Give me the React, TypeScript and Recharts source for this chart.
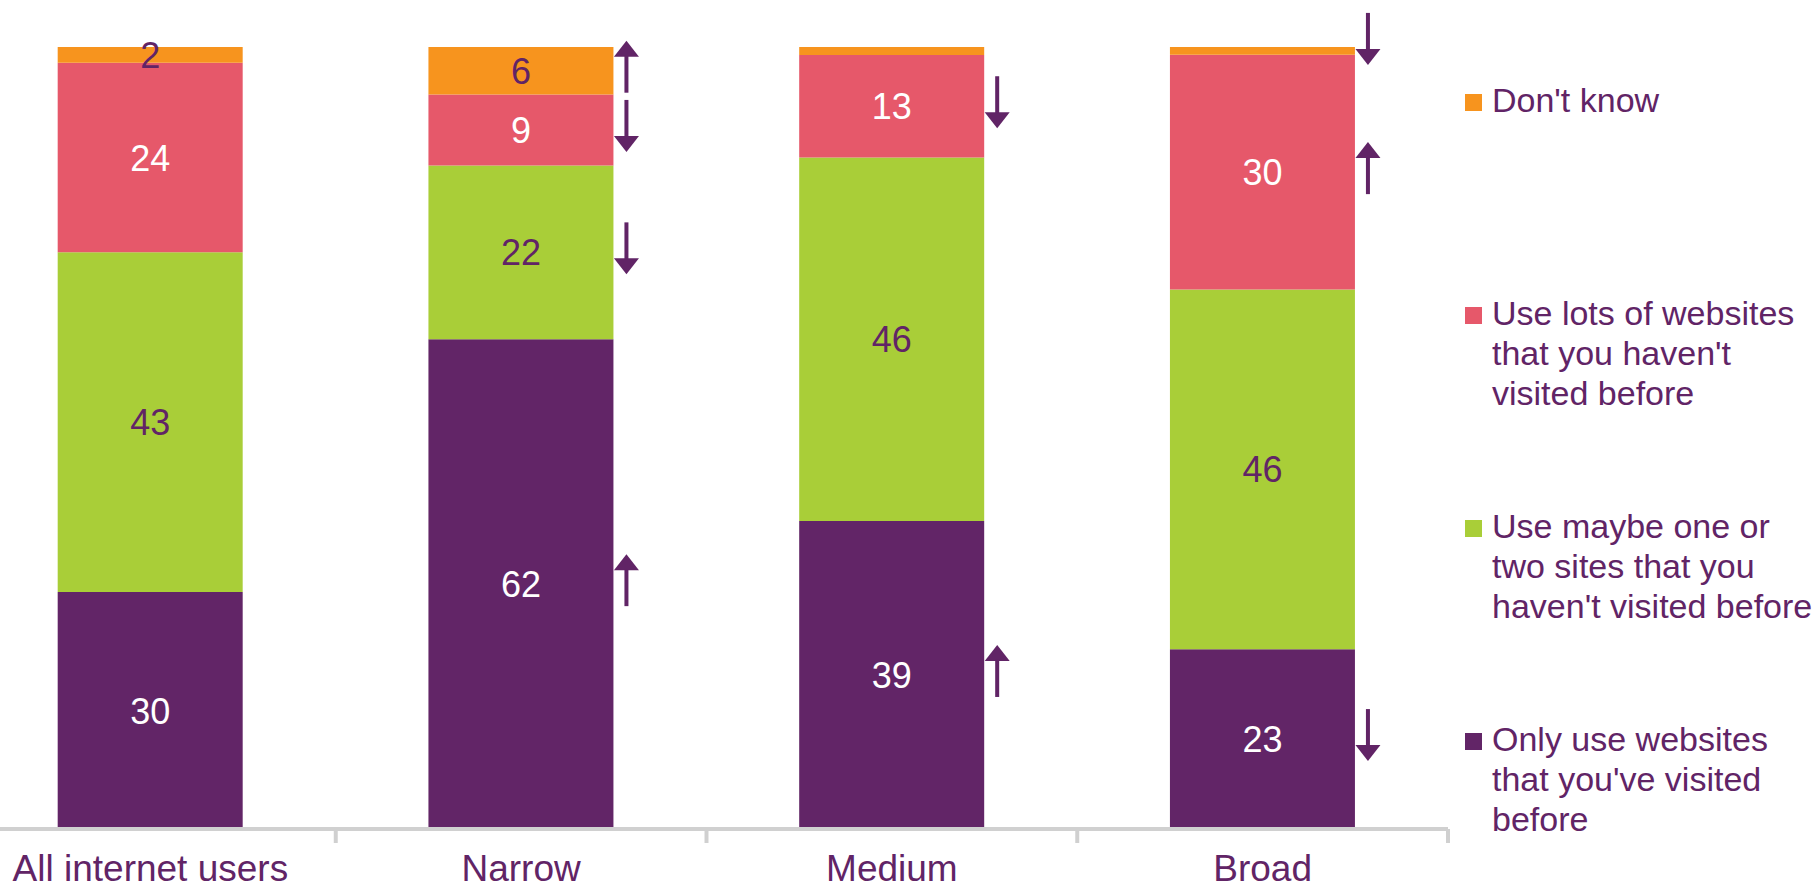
import React from 'react';
import { BarChart, Bar, XAxis, YAxis, LabelList } from 'recharts';

const CATEGORIES = ['All internet users', 'Narrow', 'Medium', 'Broad'];

// stacked from the bottom up
const ONLY_VISITED = [30, 62, 39, 23];
const ONE_OR_TWO_NEW = [43, 22, 46, 46];
const LOTS_NEW = [24, 9, 13, 30];
const DONT_KNOW = [2, 6, 1, 1];

// significant changes shown by the arrows next to each segment
const ONLY_VISITED_CHANGE = [null, 'up', 'up', 'down'];
const ONE_OR_TWO_NEW_CHANGE = [null, 'down', null, null];
const LOTS_NEW_CHANGE = [null, 'down', 'down', 'up'];
const DONT_KNOW_CHANGE = [null, 'up', null, 'down'];

const PURPLE = '#622567';
const TEXT = '#612466';
const FONT = '"Liberation Sans", Arial, sans-serif';

const SERIES = [
    { key: 'only', name: "Only use websites\nthat you've visited\nbefore", color: PURPLE, label: '#ffffff', values: ONLY_VISITED, change: ONLY_VISITED_CHANGE },
    { key: 'maybe', name: "Use maybe one or\ntwo sites that you\nhaven't visited before", color: '#A9CE38', label: TEXT, values: ONE_OR_TWO_NEW, change: ONE_OR_TWO_NEW_CHANGE },
    { key: 'lots', name: "Use lots of websites\nthat you haven't\nvisited before", color: '#E6586A', label: '#ffffff', values: LOTS_NEW, change: LOTS_NEW_CHANGE },
    { key: 'dk', name: "Don't know", color: '#F7941E', label: TEXT, values: DONT_KNOW, change: DONT_KNOW_CHANGE },
];

const data = CATEGORIES.map((category, i) => {
    const row: Record<string, string | number> = { category };
    SERIES.forEach((s) => {
        row[s.key] = s.values[i];
    });
    return row;
});

const CHART_W = 1852;
const CHART_H = 890;
const MARGIN = { top: 47, right: 369, bottom: 0, left: 0 };
const PLOT_W = CHART_W - MARGIN.left - MARGIN.right;
const BAND = PLOT_W / CATEGORIES.length;
const AXIS_GREY = '#D0D0D0';

function Arrow({ cx, cy, dir }: { cx: number; cy: number; dir: string }) {
    const len = 52;
    const headH = 16;
    const headW = 25;
    const top = cy - len / 2;
    const bottom = cy + len / 2;
    if (dir === 'up') {
        return (
            <g fill={TEXT}>
                <polygon points={`${cx},${top} ${cx - headW / 2},${top + headH} ${cx + headW / 2},${top + headH}`} />
                <rect x={cx - 2} y={top + headH - 1} width={4} height={len - headH + 1} />
            </g>
        );
    }
    return (
        <g fill={TEXT}>
            <polygon points={`${cx},${bottom} ${cx - headW / 2},${bottom - headH} ${cx + headW / 2},${bottom - headH}`} />
            <rect x={cx - 2} y={top} width={4} height={len - headH + 1} />
        </g>
    );
}

function makeSegmentLabel(seriesIndex: number) {
    return (props: any) => {
        const vb = props.viewBox && props.viewBox.width !== undefined ? props.viewBox : props;
        const { x, y, width, height } = vb;
        const index = props.index;
        const s = SERIES[seriesIndex];
        const value = s.values[index];
        const change = s.change[index];
        const cy = y + height / 2;
        // thin slivers get their arrow lifted clear of the bar top
        const arrowY = height < 20 ? cy - 12 : cy - 4;
        return (
            <g>
                {value >= 2 && (
                    <text
                        x={x + width / 2}
                        y={cy + 13}
                        textAnchor="middle"
                        fill={s.label}
                        fontSize={36}
                        fontFamily={FONT}
                    >
                        {value}
                    </text>
                )}
                {change && <Arrow cx={x + width + 13} cy={arrowY} dir={change} />}
            </g>
        );
    };
}

function CategoryTick(props: any) {
    const { x, y, payload } = props;
    return (
        <g>
            <line x1={x + BAND / 2} y1={y} x2={x + BAND / 2} y2={y + 14} stroke={AXIS_GREY} strokeWidth={4} />
            <text x={x} y={y + 52} textAnchor="middle" fill={TEXT} fontSize={37} fontFamily={FONT}>
                {payload.value}
            </text>
        </g>
    );
}

function SideLegend() {
    const items = [...SERIES].reverse();
    return (
        <div style={{ position: 'absolute', left: 0, top: 0, fontFamily: FONT, color: TEXT }}>
            {items.map((s, i) => (
                <div
                    key={s.key}
                    style={{ position: 'absolute', left: 1465, top: 80 + i * 213, width: 360 }}
                >
                    <span
                        style={{
                            position: 'absolute',
                            left: 0,
                            top: 14,
                            width: 17,
                            height: 17,
                            background: s.color,
                        }}
                    />
                    <div
                        style={{
                            position: 'absolute',
                            left: 27,
                            top: 0,
                            fontSize: 34,
                            lineHeight: '40px',
                            whiteSpace: 'pre',
                        }}
                    >
                        {s.name}
                    </div>
                </div>
            ))}
        </div>
    );
}

export default function App() {
    return (
        <div
            style={{
                position: 'absolute',
                left: 0,
                top: 0,
                width: 1817,
                height: 890,
                overflow: 'hidden',
                background: '#ffffff',
            }}
        >
            <div style={{ position: 'absolute', left: -35, top: 0 }}>
                <BarChart
                    width={CHART_W}
                    height={CHART_H}
                    data={data}
                    margin={MARGIN}
                    stackOffset="expand"
                    barCategoryGap="25%"
                >
                    <XAxis
                        dataKey="category"
                        interval={0}
                        height={CHART_H - MARGIN.top - 782}
                        axisLine={{ stroke: AXIS_GREY, strokeWidth: 4 }}
                        tickLine={false}
                        tickSize={0}
                        tickMargin={0}
                        tick={<CategoryTick />}
                    />
                    <YAxis hide domain={[0, 1]} />
                    {SERIES.map((s, si) => (
                        <Bar
                            key={s.key}
                            dataKey={s.key}
                            name={s.name}
                            stackId="a"
                            fill={s.color}
                            isAnimationActive={false}
                        >
                            <LabelList dataKey={s.key} content={makeSegmentLabel(si)} />
                        </Bar>
                    ))}
                </BarChart>
            </div>
            <SideLegend />
        </div>
    );
}
